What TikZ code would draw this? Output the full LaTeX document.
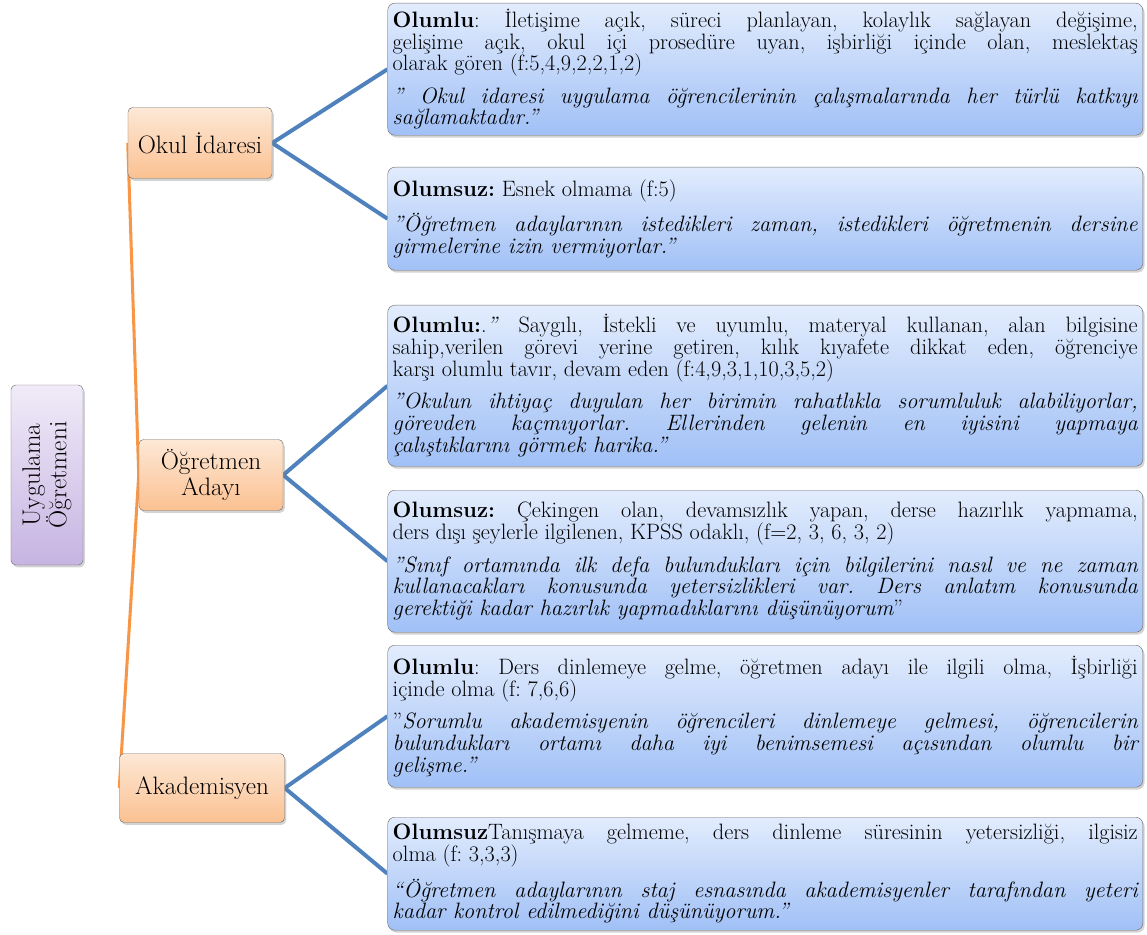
\documentclass[tikz,border=0pt]{standalone}
\usepackage{tikz}
\usetikzlibrary{shadows, backgrounds}
\usepackage{xcolor}
\definecolor{QT}{RGB}{226,236,253}
\definecolor{QB}{RGB}{160,192,246}
\definecolor{CT}{RGB}{253,232,214}
\definecolor{CB}{RGB}{251,193,145}
\definecolor{RT}{RGB}{240,235,248}
\definecolor{RB}{RGB}{198,180,226}
\definecolor{LB}{RGB}{79,129,189}
\definecolor{LO}{RGB}{247,150,70}
\definecolor{BD}{RGB}{115,115,115}
\setlength{\parindent}{0pt}
\newcommand{\qfont}{\fontsize{19}{18.6}\selectfont\frenchspacing\hyphenpenalty=10000\tolerance=9999}
\newcommand{\cfont}{\fontsize{21.5}{21.5}\selectfont}

\begin{document}
\begin{tikzpicture}[x=0.03cm, y=-0.03cm,
  dshadow/.style={drop shadow={shadow xshift=1.5pt, shadow yshift=-2pt, opacity=0.35}},
  rootbox/.style={dshadow, draw=BD, rounded corners=4pt, top color=RT, bottom color=RB,
                  rotate=90, minimum width=5.4cm, minimum height=2.16cm,
                  align=center, font=\cfont},
  catbox/.style={dshadow, draw=BD, rounded corners=4pt, top color=CT, bottom color=CB,
                 minimum height=2.13cm, align=center, font=\cfont},
  qbox/.style={dshadow, draw=BD, rounded corners=6pt, top color=QT, bottom color=QB,
               text width=22.35cm, inner xsep=0.15cm, inner ysep=0pt,
               align=justify, anchor=north east, font=\qfont},
  bline/.style={LB, line width=3.4pt},
  oline/.style={LO, line width=2.6pt}
]
\useasboundingbox (0,0) rectangle (1147,935);

% root
\node[rootbox] (root) at (47,475) {Uygulama\\Öğretmeni};

% categories
\node[catbox, minimum width=4.32cm] (okul) at (200,143) {Okul İdaresi};
\node[catbox, minimum width=4.32cm] (aday) at (211,475) {Öğretmen\\Adayı};
\node[catbox, minimum width=4.95cm, minimum height=2.07cm] (akad) at (202,788) {Akademisyen};

% Okul Idaresi
\node[qbox, minimum height=3.96cm] (pos1) at (1143,3) {%
  {\bfseries Olumlu}: İletişime açık, süreci planlayan, kolaylık sağlayan değişime,\linebreak
  gelişime açık, okul içi prosedüre uyan, işbirliği içinde olan, meslektaş\linebreak
  olarak gören (f:5,4,9,2,2,1,2)\par\vspace{9pt}\itshape
  ” Okul idaresi uygulama öğrencilerinin çalışmalarında her türlü katkıyı\linebreak
  sağlamaktadır.”};
\node[qbox, minimum height=3.09cm] (neg1) at (1143,167) {%
  {\bfseries Olumsuz:} Esnek olmama (f:5)\par\vspace{9pt}\itshape
  "Öğretmen adaylarının istedikleri zaman, istedikleri öğretmenin dersine\linebreak
  girmelerine izin vermiyorlar."};

% Ogretmen Adayi
\node[qbox, minimum height=4.83cm] (pos2) at (1143,305) {%
  {\bfseries Olumlu:}.\textit{”} Saygılı, İstekli ve uyumlu, materyal kullanan, alan bilgisine\linebreak
  sahip,verilen görevi yerine getiren, kılık kıyafete dikkat eden, öğrenciye\linebreak
  karşı olumlu tavır, devam eden (f:4,9,3,1,10,3,5,2)\par\vspace{9pt}\itshape
  "Okulun ihtiyaç duyulan her birimin rahatlıkla sorumluluk alabiliyorlar,\linebreak
  görevden kaçmıyorlar. Ellerinden gelenin en iyisini yapmaya\linebreak
  çalıştıklarını görmek harika."};
\node[qbox, minimum height=4.26cm] (neg2) at (1143,490) {%
  {\bfseries Olumsuz:} Çekingen olan, devamsızlık yapan, derse hazırlık yapmama,\linebreak
  ders dışı şeylerle ilgilenen, KPSS odaklı, (f=2, 3, 6, 3, 2)\par\vspace{9pt}\itshape
  "Sınıf ortamında ilk defa bulundukları için bilgilerini nasıl ve ne zaman\linebreak
  kullanacakları konusunda yetersizlikleri var. Ders anlatım konusunda\linebreak
  gerektiği kadar hazırlık yapmadıklarını düşünüyorum\upshape ”};

% Akademisyen
\node[qbox, minimum height=4.26cm] (pos3) at (1143,645) {%
  {\bfseries Olumlu}: Ders dinlemeye gelme, öğretmen adayı ile ilgili olma, İşbirliği\linebreak
  içinde olma (f: 7,6,6)\par\vspace{9pt}
  "\textit{Sorumlu akademisyenin öğrencileri dinlemeye gelmesi, öğrencilerin\linebreak
  bulundukları ortamı daha iyi benimsemesi açısından olumlu bir\linebreak
  gelişme."}};
\node[qbox, minimum height=3.39cm] (neg3) at (1143,817) {%
  {\bfseries Olumsuz}Tanışmaya gelmeme, ders dinleme süresinin yetersizliği, ilgisiz\linebreak
  olma (f: 3,3,3)\par\vspace{9pt}\itshape
  “Öğretmen adaylarının staj esnasında akademisyenler tarafından yeteri\linebreak
  kadar kontrol edilmediğini düşünüyorum.”};

% connectors
\begin{scope}[on background layer]
  \draw[oline] (okul.west) -- (aday.west) -- (akad.west);
  \foreach \c/\q in {okul/pos1, okul/neg1, aday/pos2, aday/neg2, akad/pos3, akad/neg3}
    \draw[bline] (\c.east) -- (\q.west);
\end{scope}
\end{tikzpicture}
\end{document}
